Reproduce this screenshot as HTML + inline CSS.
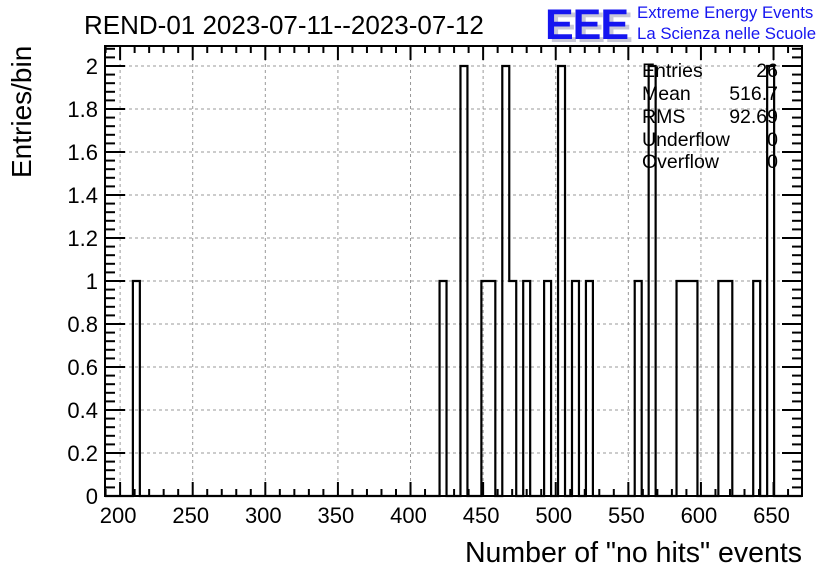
<!DOCTYPE html>
<html><head><meta charset="utf-8"><style>
html,body{margin:0;padding:0;background:#fff;}
svg{display:block;font-family:"Liberation Sans",Arial,sans-serif;}
</style></head><body>
<svg id="chart" width="836" height="572" viewBox="0 0 836 572">
  <rect x="0" y="0" width="836" height="572" fill="#fff"/>
  <g id="grid"></g>
  <g id="ticks"></g>
  <path id="hist" fill="none" stroke="#000" stroke-width="2.2"/>
  <rect x="105" y="46" width="697" height="450" fill="none" stroke="#000" stroke-width="2"/>
  <g id="xlabels" font-size="22" text-anchor="middle"></g>
  <g id="ylabels" font-size="22" text-anchor="end"></g>
  <text x="84" y="34" font-size="26">REND-01 2023-07-11--2023-07-12</text>
  <text x="802" y="562" font-size="28.5" text-anchor="end">Number of "no hits" events</text>
  <text transform="translate(31,178) rotate(-90)" font-size="28">Entries/bin</text>
  <g>
    <text x="549" y="42" font-size="43" font-weight="bold" fill="#c8c8d8" letter-spacing="-1">EEE</text>
    <text x="545" y="39" font-size="43" font-weight="bold" fill="#1515f0" letter-spacing="-1">EEE</text>
    <text x="637" y="18" font-size="16.8" fill="#1515f0">Extreme Energy Events</text>
    <text x="637" y="39" font-size="16.8" fill="#1515f0">La Scienza nelle Scuole</text>
  </g>
  <g font-size="19.5">
    <text x="642" y="77">Entries</text><text x="778" y="77" text-anchor="end">26</text>
    <text x="642" y="100">Mean</text><text x="778" y="100" text-anchor="end">516.7</text>
    <text x="642" y="123">RMS</text><text x="778" y="123" text-anchor="end">92.69</text>
    <text x="642" y="146">Underflow</text><text x="778" y="146" text-anchor="end">0</text>
    <text x="642" y="168">Overflow</text><text x="778" y="168" text-anchor="end">0</text>
  </g>
</svg>
<script>
const binStart = 189.6;
const binWidth = 4.8;
const nBins = 100;
const filledBins = [4,48,51,54,55,57,58,60,63,65,67,69,76,78,82,83,84,88,89,93,95];
const filledCounts = [1,1,2,1,1,2,1,1,1,2,1,1,1,2,1,1,1,1,1,1,2];
const xTickValues = [200,250,300,350,400,450,500,550,600,650];
const yTickValues = [0,0.2,0.4,0.6,0.8,1,1.2,1.4,1.6,1.8,2];
const yTickLabels = ["0","0.2","0.4","0.6","0.8","1","1.2","1.4","1.6","1.8","2"];

const X0=105,X1=802,Y0=496,Y1=46;
const xMin=binStart, xMax=binStart+nBins*binWidth;
const yMin=0, yMax=2.093;
function xs(v){return X0+(v-xMin)/(xMax-xMin)*(X1-X0);}
function ys(v){return Y0-(v-yMin)/(yMax-yMin)*(Y0-Y1);}
const NS="http://www.w3.org/2000/svg";
function mk(tag,parent,attrs){const e=document.createElementNS(NS,tag);for(const k in attrs)e.setAttribute(k,attrs[k]);parent.appendChild(e);return e;}

const counts=new Array(nBins).fill(0);
filledBins.forEach((b,i)=>{counts[b]=filledCounts[i];});
let d="M"+xs(xMin)+","+ys(0);
for(let i=0;i<nBins;i++){
  const a=xs(binStart+i*binWidth), b=xs(binStart+(i+1)*binWidth), y=ys(counts[i]);
  d+=" L"+a+","+y+" L"+b+","+y;
}
d+=" L"+xs(xMax)+","+ys(0);
document.getElementById('hist').setAttribute('d',d);

const grid=document.getElementById('grid'), ticks=document.getElementById('ticks');
const xl=document.getElementById('xlabels'), yl=document.getElementById('ylabels');
xTickValues.forEach(v=>{
  const x=xs(v);
  const g=mk('line',grid,{x1:x,x2:x,y1:Y1,y2:Y0,stroke:'#999','stroke-dasharray':'3,3','stroke-width':1});
  
  
  const t=mk('text',xl,{x:x-2,y:523});
  t.textContent=v;
  
  
});
for(let v=190;v<=xMax;v+=10){
  const x=xs(v), major=(v%50===0), L=major?14:7;
  const a=mk('line',ticks,{x1:x,x2:x,y1:Y0,y2:Y0-L,stroke:'#000','stroke-width':2});
  
  
  const b=mk('line',ticks,{x1:x,x2:x,y1:Y1,y2:Y1+L,stroke:'#000','stroke-width':2});
  
  
}
yTickValues.forEach((v,i)=>{
  const y=ys(v);
  if(v>0){
    const g=mk('line',grid,{x1:X0,x2:X1,y1:y,y2:y,stroke:'#999','stroke-dasharray':'3,3','stroke-width':1});
    
    
  }
  const t=mk('text',yl,{x:98,y:y+8});
  t.textContent=yTickLabels[i];
  
  
});
for(let k=0;k*0.04<=yMax+1e-9;k++){
  const v=k*0.04, y=ys(v), major=(k%5===0), L=major?20:10;
  const a=mk('line',ticks,{x1:X0,x2:X0+L,y1:y,y2:y,stroke:'#000','stroke-width':2});
  
  
  const b=mk('line',ticks,{x1:X1,x2:X1-L,y1:y,y2:y,stroke:'#000','stroke-width':2});
  
  
}
</script>
</body></html>
